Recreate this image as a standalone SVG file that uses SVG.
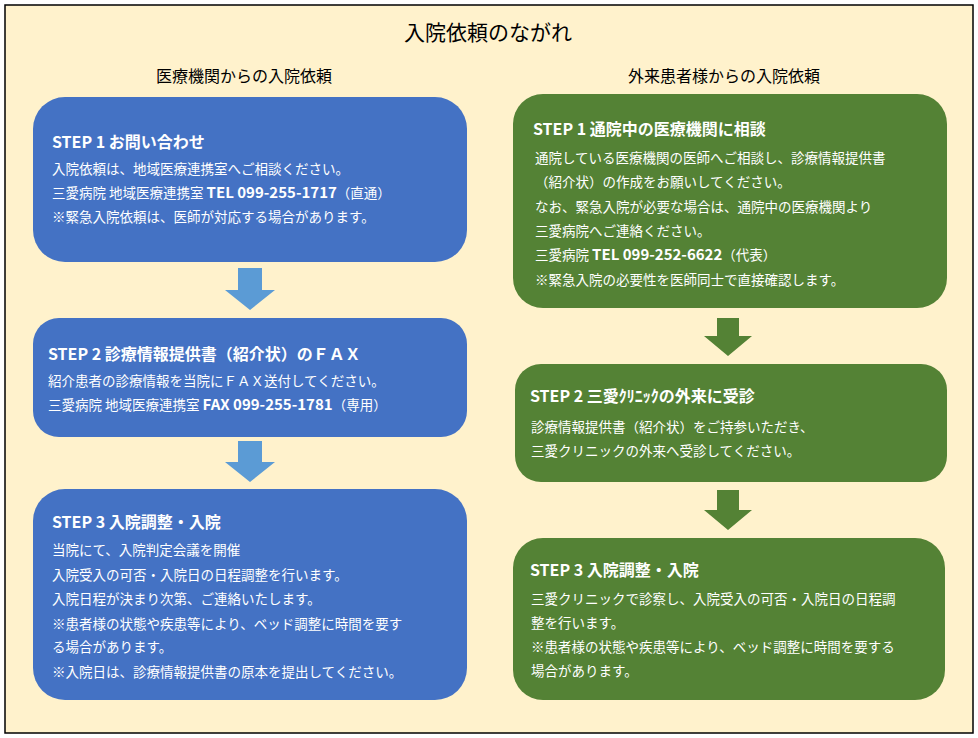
<svg xmlns="http://www.w3.org/2000/svg" width="978" height="738" viewBox="0 0 978 738">
<style>
text{font-family:"Noto Sans CJK JP","Noto Sans",sans-serif;fill:#fff;font-size:13.5px}
.h{font-size:16px;font-weight:bold}
.t{fill:#000;font-size:16px}
.blue{fill:#4472C4}
.green{fill:#548235}
</style>
<rect x="5" y="5" width="968" height="728" fill="#FFF2CC" stroke="#000" stroke-width="1.5"/>
<text class="t" x="488" y="40" text-anchor="middle" style="font-size:21px">入院依頼のながれ</text>
<text class="t" x="244" y="82" text-anchor="middle">医療機関からの入院依頼</text>
<text class="t" x="724" y="82" text-anchor="middle">外来患者様からの入院依頼</text>
<g id="connectors">
<polygon points="238,268 262,268 262,290 275,290 250,310 225,290 238,290" fill="#5B9BD5"/>
<polygon points="238,441 262,441 262,462 275,462 250,482 225,462 238,462" fill="#5B9BD5"/>
<polygon points="717,318 739,318 739,336 752,336 728,356 704,336 717,336" fill="#548235"/>
<polygon points="717,490 739,490 739,510 752,510 728,530 704,510 717,510" fill="#548235"/>
</g>
<g id="L1"><rect class="blue" x="33" y="97" width="434" height="165" rx="32"/>
<text class="h" x="52" y="148">STEP 1  お問い合わせ</text>
<text x="52" y="174">入院依頼は、地域医療連携室へご相談ください。</text>
<text x="52" y="198">三愛病院 地域医療連携室 <tspan font-weight="bold" font-size="15">TEL 099-255-1717</tspan>（直通）</text>
<text x="52" y="222">※緊急入院依頼は、医師が対応する場合があります。</text></g>
<g id="L2"><rect class="blue" x="33" y="318" width="434" height="119" rx="26"/>
<text class="h" x="48" y="360">STEP 2  診療情報提供書（紹介状）のＦＡＸ</text>
<text x="48" y="386">紹介患者の診療情報を当院にＦＡＸ送付してください。</text>
<text x="48" y="410">三愛病院 地域医療連携室 <tspan font-weight="bold" font-size="15">FAX 099-255-1781</tspan>（専用）</text></g>
<g id="L3"><rect class="blue" x="33" y="489" width="434" height="211" rx="32"/>
<text class="h" x="52" y="528">STEP 3  入院調整・入院</text>
<text x="52" y="555">当院にて、入院判定会議を開催</text>
<text x="52" y="580">入院受入の可否・入院日の日程調整を行います。</text>
<text x="52" y="604">入院日程が決まり次第、ご連絡いたします。</text>
<text x="52" y="629">※患者様の状態や疾患等により、ベッド調整に時間を要す</text>
<text x="52" y="652">る場合があります。</text>
<text x="52" y="677">※入院日は、診療情報提供書の原本を提出してください。</text></g>
<g id="R1"><rect class="green" x="513" y="94" width="434" height="214" rx="30"/>
<text class="h" x="533" y="135">STEP 1  通院中の医療機関に相談</text>
<text x="535" y="163">通院している医療機関の医師へご相談し、診療情報提供書</text>
<text x="535" y="187">（紹介状）の作成をお願いしてください。</text>
<text x="535" y="212">なお、緊急入院が必要な場合は、通院中の医療機関より</text>
<text x="535" y="236">三愛病院へご連絡ください。</text>
<text x="535" y="260">三愛病院 <tspan font-weight="bold" font-size="15">TEL 099-252-6622</tspan>（代表）</text>
<text x="535" y="285">※緊急入院の必要性を医師同士で直接確認します。</text></g>
<g id="R2"><rect class="green" x="515" y="364" width="432" height="118" rx="26"/>
<text class="h" x="530" y="402">STEP 2  三愛ｸﾘﾆｯｸの外来に受診</text>
<text x="531" y="432">診療情報提供書（紹介状）をご持参いただき、</text>
<text x="531" y="456">三愛クリニックの外来へ受診してください。</text></g>
<g id="R3"><rect class="green" x="513" y="538" width="432" height="162" rx="30"/>
<text class="h" x="530" y="576">STEP 3  入院調整・入院</text>
<text x="531" y="604">三愛クリニックで診察し、入院受入の可否・入院日の日程調</text>
<text x="531" y="628">整を行います。</text>
<text x="531" y="652">※患者様の状態や疾患等により、ベッド調整に時間を要する</text>
<text x="531" y="676">場合があります。</text></g>
</svg>
